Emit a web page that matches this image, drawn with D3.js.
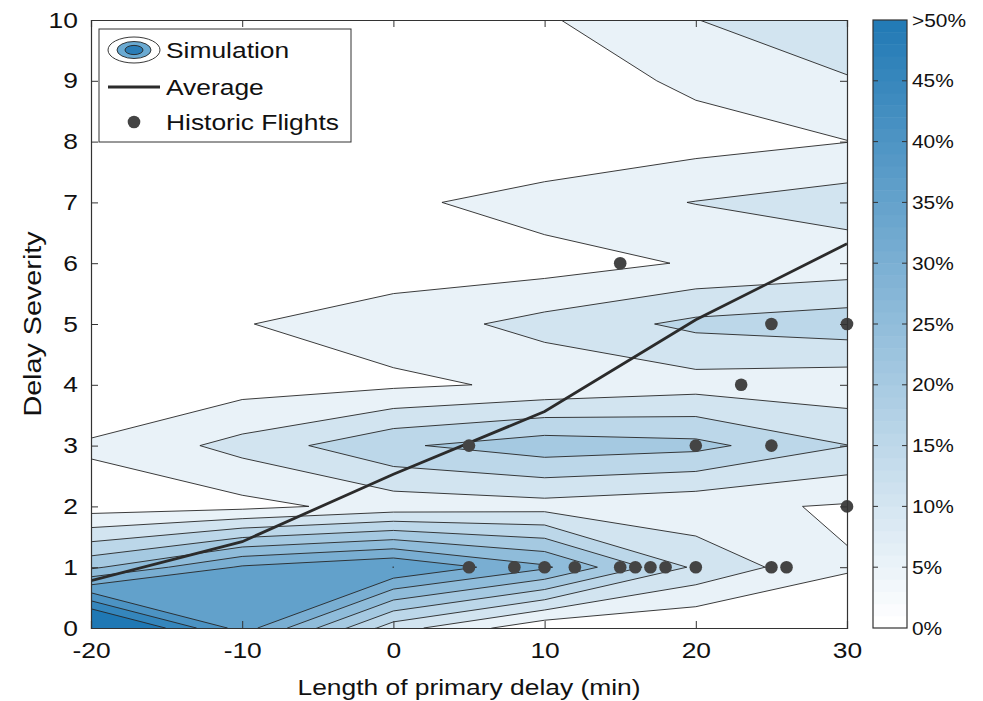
<!DOCTYPE html>
<html lang="en">
<head>
<meta charset="UTF-8">
<title>Delay severity</title>
<script src="https://cdn.jsdelivr.net/npm/d3@7"></script>
<style>
    body { margin: 0; background: #fff; }
    text { font-family: "Liberation Sans", Arial, sans-serif; fill: #111; }
</style>
</head>
<body>
<svg id="chart" width="983" height="701"></svg>
<script>
    // grid columns (primary delay, min) and rows (delay severity)
    const delayMin = [-20, -10, 0, 10, 20, 30]
    const severity = [0, 1, 2, 3, 4, 5, 6, 7, 8, 9, 10]

    // % of simulated flights, one row per severity (0 first), columns follow delayMin
    const simShare = [
        [62, 37.6, 12.2, 1.2, 0.15, 2.5],
        [24, 35.7, 40.02, 30.9, 14, 5.28],
        [2.5, 3.5, 6.9, 8, 6.2, 4.5],
        [5.7, 11.67, 19.24, 22.86, 21.5, 15.1],
        [0, 2.87, 4.1, 5.83, 7.9, 6.75],
        [0.5, 4.8, 7.3, 11.8, 16.2, 17.9],
        [0, 0, 2.7, 2.72, 5.47, 7.07],
        [0, 0, 3.78, 7.58, 10.15, 12.4],
        [0, 0, 0, 0, 3, 4.9],
        [0, 0, 0, 2.3, 5.94, 9.56],
        [0, 0, 0, 4.4, 9.9, 14]
    ]

    const avgSeverity = [0.78, 1.42, 2.53, 3.56, 5.07, 6.32]

    const flightDelay = [5, 8, 10, 12, 15, 16, 17, 18, 20, 25, 26, 5, 20, 25, 23, 15, 25, 30, 30]
    const flightSeverity = [1, 1, 1, 1, 1, 1, 1, 1, 1, 1, 1, 3, 3, 3, 4, 6, 5, 5, 2]

    const levels = [5, 10, 15, 20, 25, 30, 35, 40, 45, 50]
    const cbTicks = [0, 5, 10, 15, 20, 25, 30, 35, 40, 45, 50]
    const cbLabels = ["0%", "5%", "10%", "15%", "20%", "25%", "30%", "35%", "40%", "45%", ">50%"]
    const xTicks = [-20, -10, 0, 10, 20, 30]
    const yTicks = [0, 1, 2, 3, 4, 5, 6, 7, 8, 9, 10]

    const svg = d3.select("#chart")
    const pLeft = 91, pRight = 847, pTop = 20, pBottom = 628
    const stretch = 1.2   // the original lettering is wider than Arial

    const x = d3.scaleLinear().domain([-20, 30]).range([pLeft, pRight])
    const y = d3.scaleLinear().domain([0, 10]).range([pBottom, pTop])
    const color = d3.scaleLinear().domain([0, 50]).range(["#ffffff", "#1f78b4"]).clamp(true)

    svg.append("clipPath").attr("id", "plotClip")
        .append("rect")
        .attr("x", pLeft).attr("y", pTop)
        .attr("width", pRight - pLeft).attr("height", pBottom - pTop)

    svg.append("rect")
        .attr("x", pLeft).attr("y", pTop)
        .attr("width", pRight - pLeft).attr("height", pBottom - pTop)
        .attr("fill", "#fff")

    // filled contours, grid cell centre i+0.5 sits on column i
    const contours = d3.contours()
        .size([delayMin.length, severity.length])
        .thresholds(levels)(simShare.flat())

    const gx = d3.scaleLinear().domain([0.5, delayMin.length - 0.5])
        .range([x(delayMin[0]), x(delayMin[delayMin.length - 1])])
    const gy = d3.scaleLinear().domain([0.5, severity.length - 0.5])
        .range([y(severity[0]), y(severity[severity.length - 1])])
    const gridPath = d3.geoPath(d3.geoTransform({
        point(px, py) { this.stream.point(gx(px), gy(py)) }
    }))

    const plot = svg.append("g").attr("clip-path", "url(#plotClip)")

    plot.selectAll(".band")
        .data(contours)
        .join("path")
        .attr("class", "band")
        .attr("d", gridPath)
        .attr("fill", d => color(d.value))
        .attr("stroke", "#262626")
        .attr("stroke-width", 0.9)
        .attr("stroke-linejoin", "miter")

    // average line
    plot.append("path")
        .datum(delayMin.map((d, i) => [d, avgSeverity[i]]))
        .attr("d", d3.line().x(d => x(d[0])).y(d => y(d[1])))
        .attr("fill", "none")
        .attr("stroke", "#2b2b2b")
        .attr("stroke-width", 2.8)

    // historic flights
    svg.append("g").selectAll("circle")
        .data(flightDelay.map((d, i) => [d, flightSeverity[i]]))
        .join("circle")
        .attr("cx", d => x(d[0]))
        .attr("cy", d => y(d[1]))
        .attr("r", 6.3)
        .attr("fill", "#444")

    // axes, ticks pointing inward on all four sides
    const fontSize = 22
    svg.append("g").attr("transform", `translate(0,${pBottom})`)
        .call(d3.axisBottom(x).tickValues(xTicks).tickSize(-7).tickPadding(14).tickFormat(d => String(d)))
    svg.append("g").attr("transform", `translate(0,${pTop})`)
        .call(d3.axisTop(x).tickValues(xTicks).tickSize(-7).tickFormat(""))
    svg.append("g").attr("transform", `translate(${pLeft},0)`)
        .call(d3.axisLeft(y).tickValues(yTicks).tickSize(-7).tickPadding(11).tickFormat(d => String(d)))
    svg.append("g").attr("transform", `translate(${pRight},0)`)
        .call(d3.axisRight(y).tickValues(yTicks).tickSize(-7).tickFormat(""))

    svg.selectAll(".domain").attr("stroke", "#333").attr("stroke-width", 1.2)
    svg.selectAll(".tick line").attr("stroke", "#333")
    svg.selectAll(".tick text").attr("font-size", fontSize).attr("fill", "#111")
        .attr("font-family", "Liberation Sans, Arial, sans-serif")
        .attr("transform", `scale(${stretch},1)`)

    svg.append("text")
        .attr("transform", `translate(${(pLeft + pRight) / 2},695) scale(${stretch},1)`)
        .attr("text-anchor", "middle").attr("font-size", fontSize)
        .text("Length of primary delay (min)")

    svg.append("text")
        .attr("transform", `translate(41,${(pTop + pBottom) / 2}) rotate(-90) scale(1.25,1)`)
        .attr("text-anchor", "middle").attr("font-size", 23)
        .text("Delay Severity")

    // colorbar
    const cbX = 873, cbW = 34
    const cbY = d3.scaleLinear().domain([0, 50]).range([pBottom, pTop])
    const steps = d3.range(0, 50)
    const cb = svg.append("g")
    cb.selectAll("rect")
        .data(steps)
        .join("rect")
        .attr("x", cbX).attr("width", cbW)
        .attr("y", d => cbY(d + 1))
        .attr("height", d => cbY(d) - cbY(d + 1) + 0.5)
        .attr("fill", d => color(d))
    cb.append("rect")
        .attr("x", cbX).attr("y", pTop).attr("width", cbW).attr("height", pBottom - pTop)
        .attr("fill", "none").attr("stroke", "#333").attr("stroke-width", 1.2)
    cb.selectAll(".cbtick")
        .data(cbTicks.slice(1, -1))
        .join("path")
        .attr("class", "cbtick")
        .attr("d", d => `M${cbX},${cbY(d)}h5M${cbX + cbW},${cbY(d)}h-5`)
        .attr("stroke", "#333")
    cb.selectAll("text")
        .data(cbTicks)
        .join("text")
        .attr("transform", d => `translate(${cbX + cbW + 5},${cbY(d)}) scale(1.1,1)`)
        .attr("dy", "0.35em")
        .attr("font-size", 19)
        .text((d, i) => cbLabels[i])

    // legend
    const lg = svg.append("g")
    lg.append("rect")
        .attr("x", 99).attr("y", 29).attr("width", 252).attr("height", 113)
        .attr("fill", "#fff").attr("stroke", "#333").attr("stroke-width", 1)
    const icon = [[26, 13, "#fff"], [17, 8.5, "#6aaad2"], [9, 4.6, "#2a7db7"]]
    lg.selectAll("ellipse")
        .data(icon)
        .join("ellipse")
        .attr("cx", 134).attr("cy", 50)
        .attr("rx", d => d[0]).attr("ry", d => d[1])
        .attr("fill", d => d[2]).attr("stroke", "#222").attr("stroke-width", 0.9)
    lg.append("line")
        .attr("x1", 108).attr("x2", 160).attr("y1", 87).attr("y2", 87)
        .attr("stroke", "#2b2b2b").attr("stroke-width", 2.8)
    lg.append("circle").attr("cx", 134).attr("cy", 122).attr("r", 6.3).attr("fill", "#444")
    lg.selectAll("text")
        .data([["Simulation", 50], ["Average", 87], ["Historic Flights", 122]])
        .join("text")
        .attr("transform", d => `translate(166,${d[1]}) scale(${stretch},1)`)
        .attr("dy", "0.35em")
        .attr("font-size", fontSize)
        .text(d => d[0])
</script>
</body>
</html>
